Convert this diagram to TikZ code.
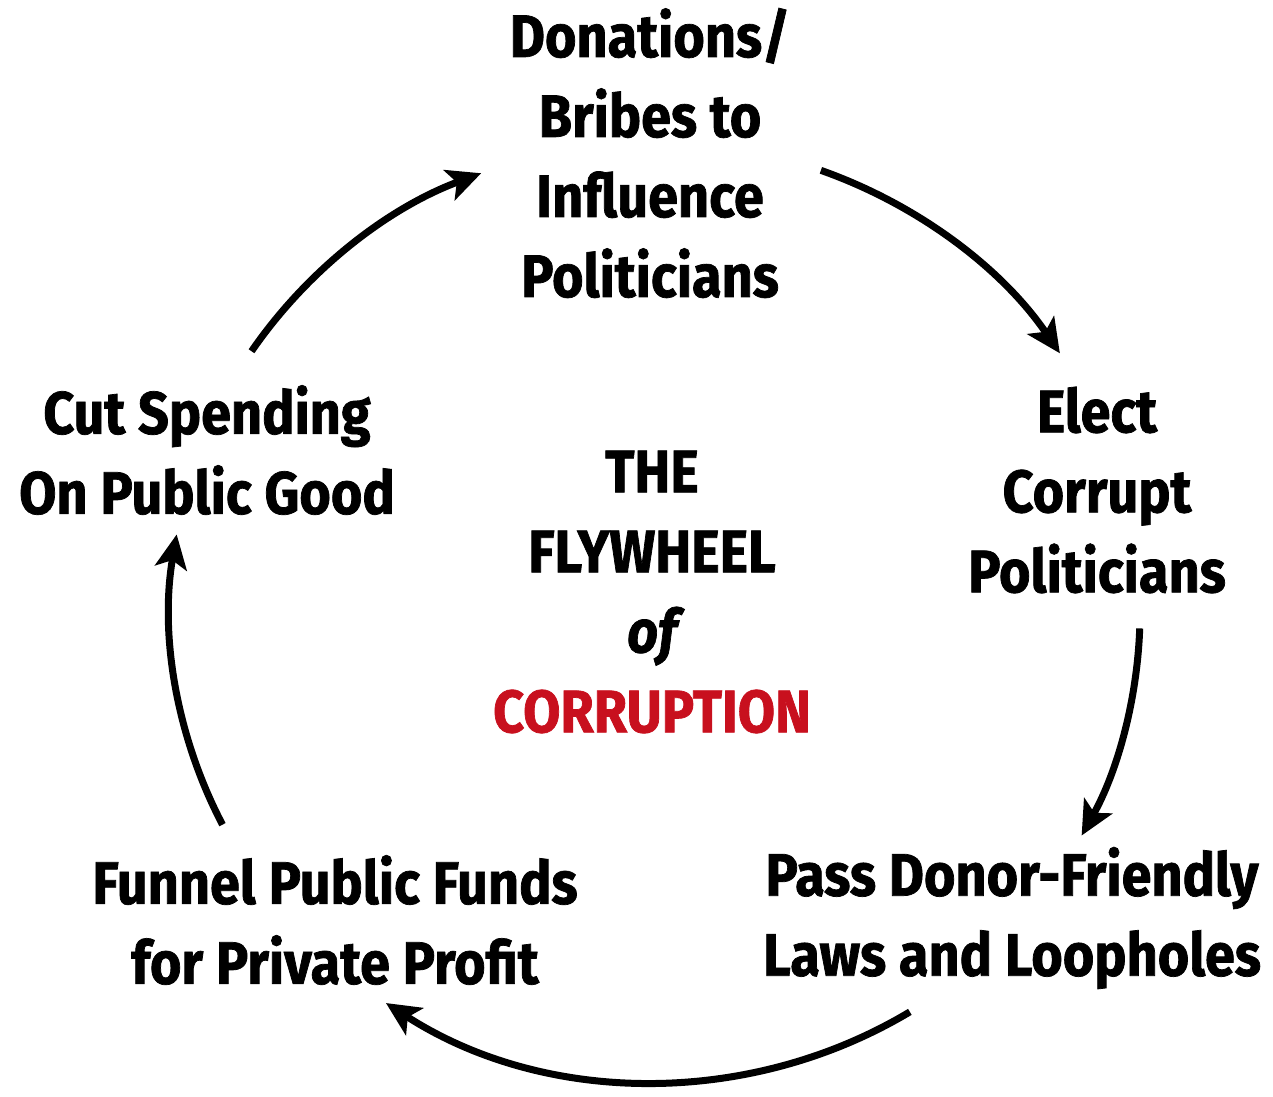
\documentclass[tikz,border=0pt]{standalone}
\usepackage{fontspec}
\newfontfamily\cf[FakeStretch=0.9,FakeBold=1.2]{Fira Sans}
\usetikzlibrary{arrows.meta}
\definecolor{corrred}{RGB}{200,16,30}
\begin{document}
\begin{tikzpicture}[x=1pt,y=-1pt,
  lbl/.style={align=center,inner sep=0pt,font=\cf\bfseries\fontsize{60}{80}\selectfont},
  flow/.style={line width=7pt,-{Stealth[length=34pt,width=32pt,inset=8pt]}}]
\useasboundingbox (0,0) rectangle (1273,1096);
\coordinate (C) at (655,612);
% labels
\node[lbl] (top) at (650,153) {Donations/\\Bribes to\\Influence\\Politicians};
\node[lbl] (right) at (1097,490) {Elect\\Corrupt\\Politicians};
\node[lbl] (br) at (1012,918) {Pass Donor-Friendly\\Laws and Loopholes};
\node[lbl] (bl) at (335,920) {Funnel Public Funds\\for Private Profit};
\node[lbl] (left) at (207,450) {Cut Spending\\On Public Good};
\node[lbl] (center) at (652,592) {THE\\FLYWHEEL\\{\itshape of}\\\textcolor{corrred}{CORRUPTION}};
% arc end points
\path (C) ++(146.3:485pt and 470pt) coordinate (s1);
\path (C) ++(70.0:485pt and 470pt) coordinate (s2);
\path (C) ++(-2.0:485pt and 470pt) coordinate (s3);
\path (C) ++(-58.3:485pt and 470pt) coordinate (s4);
\path (C) ++(206.9:485pt and 470pt) coordinate (s5);
% connectors
\draw[flow] (s1) arc[start angle=146.3,end angle=111.0,x radius=485pt,y radius=470pt];
\draw[flow] (s2) arc[start angle=70.0,end angle=33.4,x radius=485pt,y radius=470pt];
\draw[flow] (s3) arc[start angle=-2.0,end angle=-28.4,x radius=485pt,y radius=470pt];
\draw[flow] (s4) arc[start angle=-58.3,end angle=-123.7,x radius=485pt,y radius=470pt];
\draw[flow] (s5) arc[start angle=206.9,end angle=170.5,x radius=485pt,y radius=470pt];
\end{tikzpicture}
\end{document}
